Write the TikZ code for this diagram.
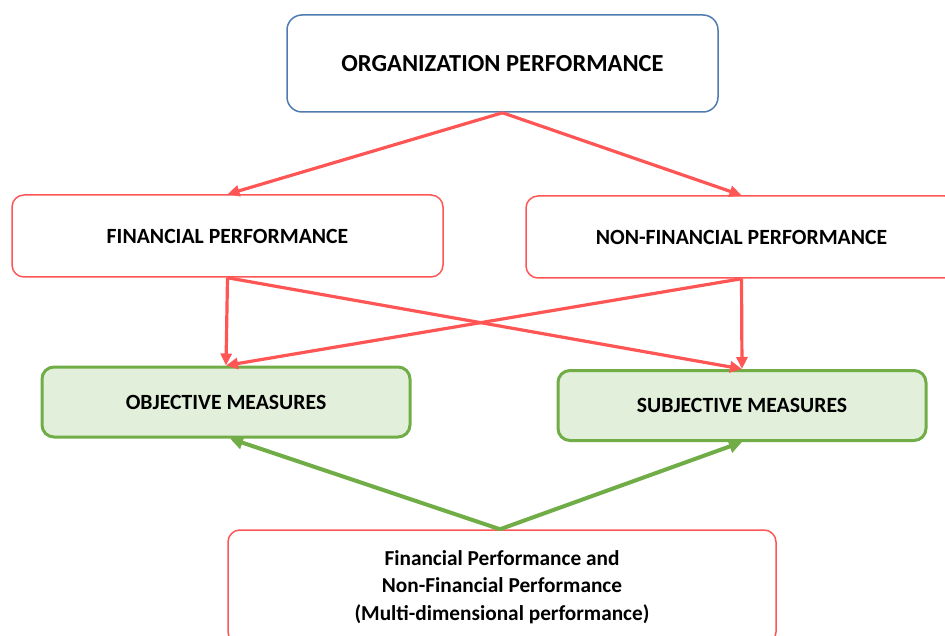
\documentclass[tikz,border=0pt]{standalone}
\usepackage{fontspec}
\setmainfont{Carlito}
\usetikzlibrary{arrows.meta}
\definecolor{redc}{HTML}{FF5555}
\definecolor{bluec}{HTML}{4F7BB0}
\definecolor{greenc}{HTML}{70AD47}
\definecolor{greenf}{HTML}{E2EFDA}
\tikzset{
  box/.style={draw=redc, line width=1.5pt, rounded corners=12pt, fill=white, inner sep=0pt, align=center, font=\bfseries\fontsize{21.7}{26}\selectfont},
  topbox/.style={box, draw=bluec, rounded corners=15pt, font=\bfseries\fontsize{24.5}{28}\selectfont},
  measbox/.style={box, draw=greenc, fill=greenf, line width=3pt},
  botbox/.style={box, font=\bfseries\fontsize{21.3}{27.5}\selectfont},
  redarrow/.style={draw=redc, line width=3.2pt, -{Triangle[length=12pt,width=11pt]}},
  greenarrow/.style={draw=greenc, line width=4pt, -{Triangle[length=13pt,width=13pt]}},
}
\begin{document}
\begin{tikzpicture}[x=1pt,y=-1pt]
\useasboundingbox (0,0) rectangle (945,636);
\clip (0,0) rectangle (945,636);
\node[topbox, minimum width=431pt, minimum height=97pt] (org) at (502.5,63.5) {ORGANIZATION PERFORMANCE};
\node[box, minimum width=431pt, minimum height=82pt] (fin) at (227.5,236) {FINANCIAL PERFORMANCE};
\node[box, minimum width=431pt, minimum height=82pt] (nonfin) at (741.5,237) {NON-FINANCIAL PERFORMANCE};
\node[measbox, minimum width=368pt, minimum height=70pt] (obj) at (226,402) {OBJECTIVE MEASURES};
\node[measbox, minimum width=368pt, minimum height=70pt] (subj) at (742,405.5) {SUBJECTIVE MEASURES};
\node[botbox, minimum width=548pt, minimum height=114pt] (multi) at (502,587) {Financial Performance and\\Non-Financial Performance\\(Multi-dimensional performance)};
\coordinate (orgS) at (org.south);
\draw[redarrow] (orgS) -- (fin.north);
\draw[redarrow] (orgS) -- (nonfin.north);
\draw[redarrow] (fin.south) -- (obj.north);
\draw[redarrow] (fin.south) -- (subj.north);
\draw[redarrow] (nonfin.south) -- (subj.north);
\draw[redarrow] (nonfin.south) -- (obj.north);
\coordinate (multiN) at ([xshift=-2pt]multi.north);
\draw[greenarrow] (multiN) -- ([xshift=4pt]obj.south);
\draw[greenarrow] (multiN) -- (subj.south);
\end{tikzpicture}
\end{document}
